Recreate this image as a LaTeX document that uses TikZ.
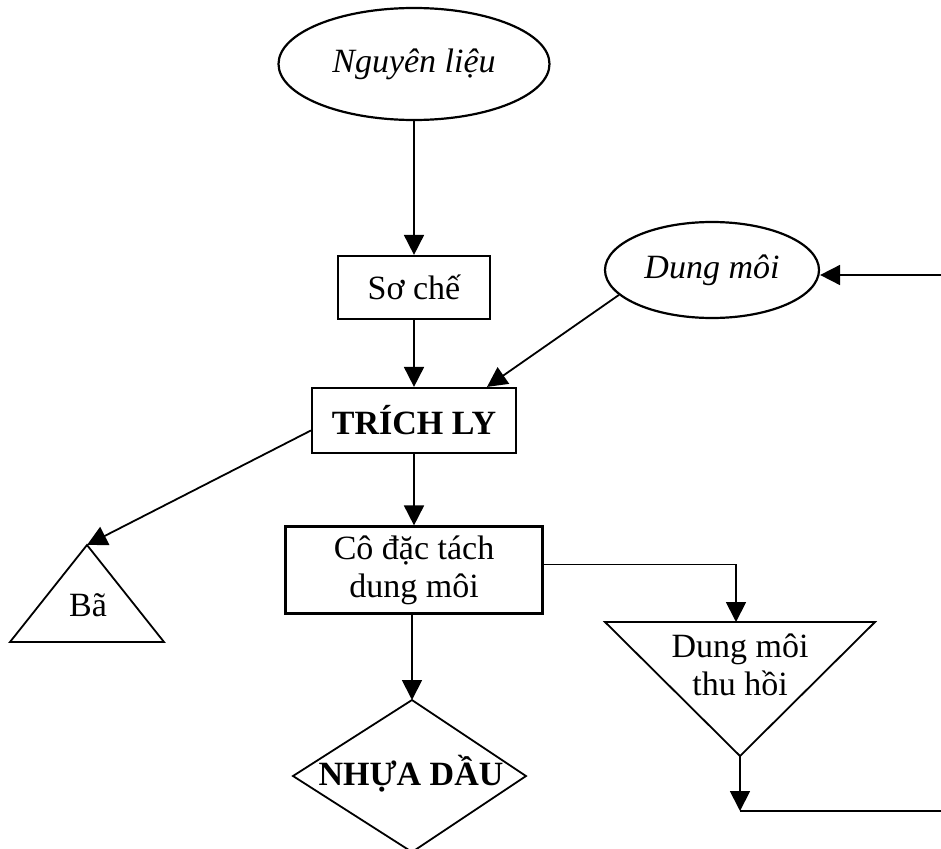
\documentclass[tikz,border=0pt]{standalone}
\usepackage{fontspec}
\setmainfont{Liberation Serif}
\usetikzlibrary{shapes.geometric,arrows.meta}

\begin{document}
\begin{tikzpicture}[x=1pt,y=-1pt,
  txt/.style={font=\fontsize{34}{38}\selectfont},
  proc/.style={draw,line width=2.2pt,rectangle,inner sep=0pt,txt},
  term/.style={draw,line width=2.2pt,ellipse,inner sep=0pt,font=\fontsize{34}{38}\selectfont\itshape},
  flow/.style={line width=1.8pt,-{Triangle[length=20pt,width=20pt]}},
  link/.style={line width=1.8pt},
  outline/.style={line width=1.8pt,line join=miter}
]
\useasboundingbox (0,0) rectangle (941,848);

% main process chain
\node[term, minimum width=271pt, minimum height=112pt] (nl) at (414,64) {Nguyên liệu};
\node[proc, minimum width=152pt, minimum height=63pt] (sc) at (414,287.5) {Sơ chế};
\node[proc, minimum width=204pt, minimum height=65pt,
      font=\fontsize{34}{38}\selectfont\bfseries] (tl) at (414,420.5) {TRÍCH LY};
\node[term, minimum width=214pt, minimum height=96pt] (dm) at (712,270) {Dung môi};
\node[proc, minimum width=257pt, minimum height=87pt, align=center] (cd) at (414,570)
      {Cô đặc tách\\dung môi};

% residue (triangle)
\coordinate (baTop) at (87,545);
\draw[outline] (baTop) -- (164,642) -- (10,642) -- cycle;
\node[txt, anchor=base] (ba) at (88,616) {Bã};

% recovered solvent (inverted triangle)
\coordinate (dtIn) at (736,622);
\coordinate (dtApex) at (740,756);
\draw[outline] (605,622) -- (875,622) -- (dtApex) -- cycle;
\node[txt, align=center] (dt) at (740,664.5) {Dung môi\\thu hồi};

% oleoresin (diamond)
\coordinate (ndT) at (412,700);
\draw[outline] (ndT) -- (526,776) -- (412,852) -- (293,776) -- cycle;
\node[txt, anchor=base, font=\fontsize{34}{38}\selectfont\bfseries] (nd) at (411,785) {NHỰA DẦU};

% recycle line ends
\coordinate (ret) at (740,811);
\coordinate (retR) at (941,811);
\coordinate (retT) at (941,275);

% connectors
\draw[flow] (nl) -- (sc);
\draw[flow] (sc) -- (tl);
\draw[flow] (dm.195) -- ([xshift=73pt]tl.north);
\draw[flow] ([yshift=-10pt]tl.west) -- (baTop);
\draw[flow] (tl) -- (cd);
\draw[flow] ([yshift=5.5pt]cd.east) -| (dtIn);
\draw[flow] (cd.south -| ndT) -- (ndT);
\draw[flow] (dtApex) -- (ret);
\draw[link] (ret) -- (retR);
\draw[flow] (retT) -- (retT -| dm.east);
\end{tikzpicture}
\end{document}
